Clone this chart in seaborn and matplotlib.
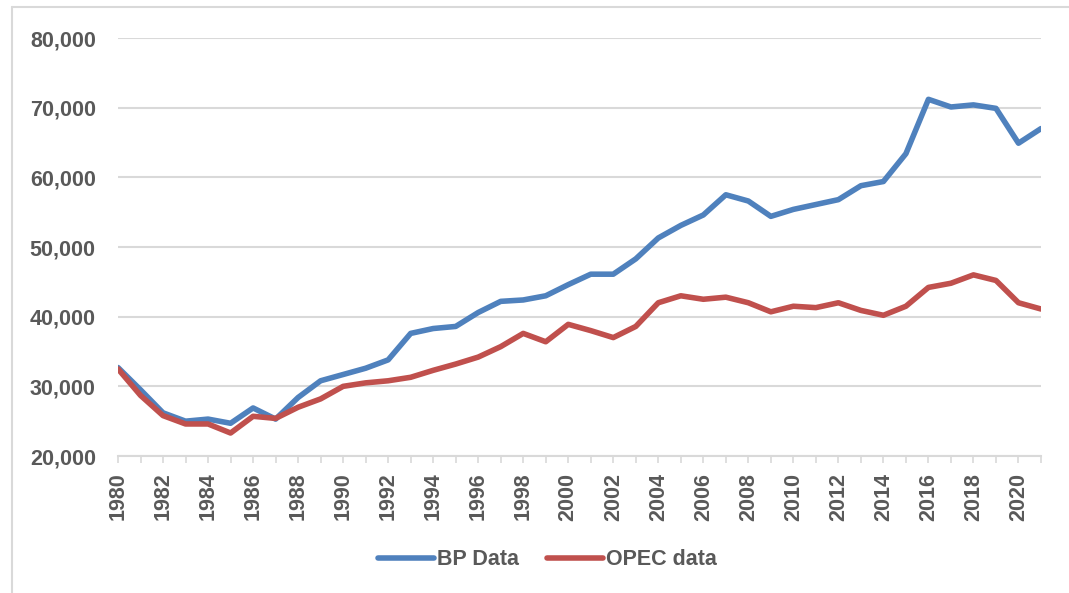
import pandas as pd
import matplotlib.pyplot as plt
import matplotlib.ticker as mticker
from matplotlib.lines import Line2D
import seaborn as sns

# values
years = list(range(1980, 2022))
bp_data = [32.7, 29.5, 26.2, 25.0, 25.3, 24.7, 26.9, 25.3, 28.4, 30.8,
           31.7, 32.6, 33.8, 37.6, 38.3, 38.6, 40.6, 42.2, 42.4, 43.0,
           44.6, 46.1, 46.1, 48.3, 51.3, 53.1, 54.6, 57.5, 56.6, 54.4,
           55.4, 56.1, 56.8, 58.8, 59.4, 63.4, 71.2, 70.1, 70.4, 69.9,
           64.9, 67.0]
opec_data = [32.5, 28.7, 25.8, 24.6, 24.6, 23.3, 25.7, 25.4, 27.0, 28.2,
             30.0, 30.5, 30.8, 31.3, 32.3, 33.2, 34.2, 35.7, 37.6, 36.4,
             38.9, 38.0, 37.0, 38.6, 42.0, 43.0, 42.5, 42.8, 42.0, 40.7,
             41.5, 41.3, 42.0, 40.9, 40.2, 41.5, 44.2, 44.8, 46.0, 45.2,
             42.0, 41.1]
series_names = ['BP Data', 'OPEC data']
colors = ['#4f81bd', '#c0504d']

df = pd.DataFrame({'Year': years,
                   'BP Data': [v * 1000 for v in bp_data],
                   'OPEC data': [v * 1000 for v in opec_data]})
long_df = df.melt(id_vars='Year', var_name='Series', value_name='Value')

sns.set_style('white')
plt.rcParams['font.family'] = ['Liberation Sans', 'DejaVu Sans']

text_color = '#595959'
grid_color = '#d9d9d9'

fig = plt.figure(figsize=(10.69, 5.93), dpi=100)
ax = fig.add_axes([0.1104, 0.231, 0.8634, 0.7049])

sns.lineplot(data=long_df, x='Year', y='Value', hue='Series',
             hue_order=series_names, palette=colors, linewidth=4.0,
             legend=False, ax=ax)

ax.set_xlim(1980, 2021)
ax.set_ylim(20000, 80000)
ax.set_yticks(range(20000, 80001, 10000))
ax.yaxis.set_major_formatter(mticker.FuncFormatter(lambda v, p: f'{int(v):,}'))
ax.set_xticks(range(1980, 2022, 2))
ax.set_xticks(years, minor=True)
ax.set_xlabel('')
ax.set_ylabel('')

ax.grid(axis='y', color=grid_color, linewidth=1.5)
ax.set_axisbelow(True)
for side in ['top', 'right', 'left']:
    ax.spines[side].set_visible(False)
ax.spines['bottom'].set_color(grid_color)
ax.spines['bottom'].set_linewidth(1.5)

ax.tick_params(axis='y', length=0, pad=16, labelsize=15.5, labelcolor=text_color)
ax.tick_params(axis='x', which='both', direction='out', length=5, width=1.2,
               color=grid_color, bottom=True)
ax.tick_params(axis='x', which='major', pad=7, labelsize=15.5,
               labelcolor=text_color, labelrotation=90)
for lbl in ax.get_xticklabels() + ax.get_yticklabels():
    lbl.set_fontweight('bold')

handles = [Line2D([0], [0], color=c, linewidth=4.0, solid_capstyle='round')
           for c in colors]
fig.legend(handles, series_names, loc='center', bbox_to_anchor=(0.512, 0.056),
           ncol=2, frameon=False, handlelength=2.6, handletextpad=0.15,
           columnspacing=1.3, prop={'weight': 'bold', 'size': 15.5},
           labelcolor=text_color)

# light chart border (top and left edges visible in the crop)
fig.add_artist(Line2D([12 / 1069, 12 / 1069], [0, 1 - 7 / 593],
                      transform=fig.transFigure, color=grid_color, linewidth=1.5))
fig.add_artist(Line2D([12 / 1069, 1], [1 - 7 / 593, 1 - 7 / 593],
                      transform=fig.transFigure, color=grid_color, linewidth=1.5))

plt.savefig('out.png', dpi=100)
